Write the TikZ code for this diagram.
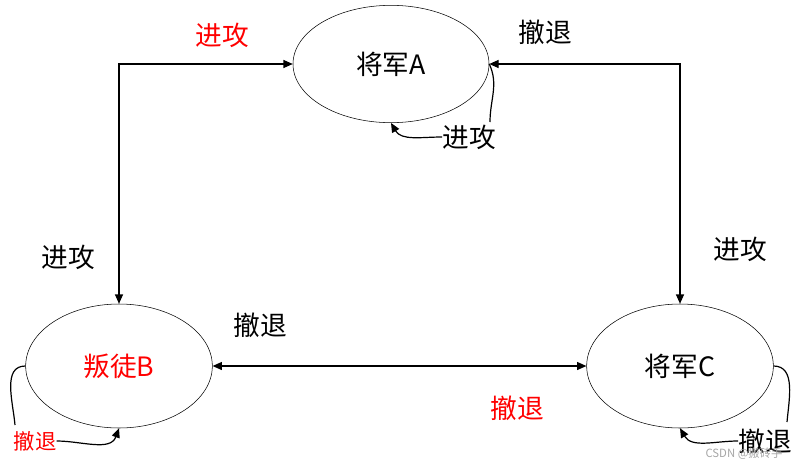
\documentclass[tikz,border=0pt]{standalone}
\usepackage{fontspec}
\setmainfont{Noto Sans CJK SC}
\usetikzlibrary{shapes.geometric,arrows.meta}

\begin{document}
\begin{tikzpicture}[x=0.75pt,y=-0.75pt,>={Triangle[length=7pt,width=6pt]},
    font=\fontsize{20}{24}\selectfont]

    \useasboundingbox (0,0) rectangle (809,471);

    % generals
    \node (A) at (391,64)  [draw, ellipse, thin, minimum width=147pt, minimum height=88pt, inner sep=0pt] {将军A};
    \node (B) at (119,366) [draw, ellipse, thin, minimum width=140pt, minimum height=93pt, inner sep=0pt, text=red] {叛徒B};
    \node (C) at (680,366) [draw, ellipse, thin, minimum width=140pt, minimum height=93pt, inner sep=0pt] {将军C};

    % messages
    \coordinate (ab) at (119,64);
    \coordinate (ac) at (680,64);
    \draw[line width=0.9pt,<->] (A.west) -- (ab) -- (B.north);
    \draw[line width=0.9pt,<->] (A.east) -- (ac) -- (C.north);
    \draw[line width=0.9pt,<->] (B.east) -- (C.west);

    \node (ab1) at (222,35)  [text=red] {进攻};
    \node (ab2) at (68,257)  {进攻};
    \node (ac1) at (545,32)  {撤退};
    \node (ac2) at (740,249) {进攻};
    \node (bc1) at (260,325) {撤退};
    \node (bc2) at (517,408) [text=red] {撤退};

    % self loops
    \node (la) at (469,137) [inner sep=0pt] {进攻};
    \node (lb) at (35,441)  [inner sep=0pt, text=red, font=\fontsize{16}{19}\selectfont] {撤退};
    \node (lc) at (765,441) [inner sep=0pt] {撤退};
    \draw[line width=0.9pt,->] (A.east) to[out=-65,in=90] (490,122) (la.west) to[out=180,in=-60] (A.south);
    \draw[line width=0.9pt,->] (B.west) to[out=180,in=95] (15,425) (lb.east) to[out=0,in=-110] (B.south);
    \draw[line width=0.9pt,->] (C.east) to[out=0,in=85] (787,422) (lc.west) to[out=180,in=-60] (C.south);

    \node (wm) at (744,454) [text=black!35, font=\fontsize{8.5}{10}\selectfont] {CSDN @搬砖手};

\end{tikzpicture}
\end{document}
